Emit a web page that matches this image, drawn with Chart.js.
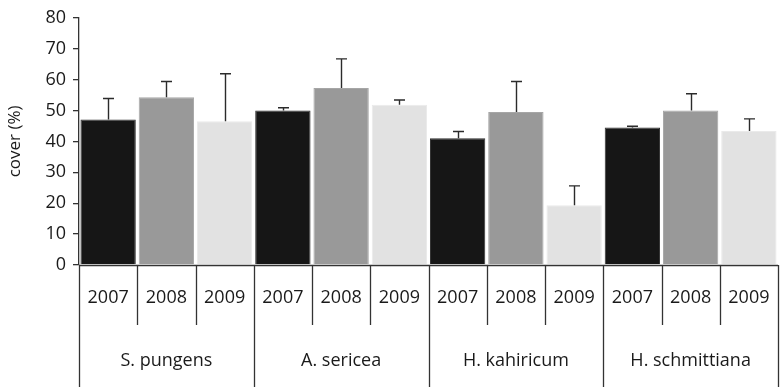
<!DOCTYPE html>
<html>
<head>
<meta charset="utf-8">
<script src="https://cdn.jsdelivr.net/npm/chart.js@4"></script>
<style>
  html, body { margin: 0; padding: 0; background: #ffffff; }
  #wrap { width: 780px; height: 387px; position: relative; }
</style>
</head>
<body>
<div id="wrap"><canvas id="c" width="780" height="387"></canvas></div>
<script>
// Species groups and survey years (two-level category axis)
const species = ['S. pungens', 'A. sericea', 'H. kahiricum', 'H. schmittiana'];
const years = ['2007', '2008', '2009'];

// Mean plant cover (%) per species, one array per year
const cover2007 = [47.1, 50.0, 41.0, 44.5];
const cover2008 = [54.3, 57.3, 49.5, 50.0];
const cover2009 = [46.5, 51.9, 19.3, 43.4];

// Upper error (standard error, % cover) per species, one array per year
const err2007 = [6.8, 0.9, 2.2, 0.4];
const err2008 = [5.1, 9.4, 9.9, 5.4];
const err2009 = [15.4, 1.5, 6.3, 3.9];

// Y axis range and step
const yMin = 0, yMax = 80, yStep = 10;

const yearFill = { '2007': '#161616', '2008': '#999999', '2009': '#e2e2e2' };
const yearEdge = { '2007': '#2e2e2e', '2008': '#a6a6a6', '2009': '#eaeaea' };

// Flatten into one bar per species/year pair
const coverByYear = [cover2007, cover2008, cover2009];
const errByYear = [err2007, err2008, err2009];
const labels = [], values = [], errors = [], fills = [], edges = [];
species.forEach((sp, si) => {
  years.forEach((yr, yi) => {
    labels.push(yr);
    values.push(coverByYear[yi][si]);
    errors.push(errByYear[yi][si]);
    fills.push(yearFill[yr]);
    edges.push(yearEdge[yr]);
  });
});

const FONT = '"Open Sans", "DejaVu Sans", sans-serif';
const TEXT = '#1a1a1a';
const AXIS = '#333333';

// Upward-only error bars with a short cap
const errorBars = {
  id: 'errorBars',
  afterDatasetsDraw(chart) {
    const ctx = chart.ctx;
    const y = chart.scales.y;
    const meta = chart.getDatasetMeta(0);
    ctx.save();
    ctx.strokeStyle = '#2b2b2b';
    ctx.lineWidth = 1.4;
    meta.data.forEach((bar, i) => {
      const x = Math.round(bar.x) + 0.5;
      const top = y.getPixelForValue(values[i] + errors[i]);
      const base = y.getPixelForValue(values[i]);
      ctx.beginPath();
      ctx.moveTo(x, base);
      ctx.lineTo(x, top);
      ctx.moveTo(x - 5.5, top);
      ctx.lineTo(x + 5.5, top);
      ctx.stroke();
    });
    ctx.restore();
  }
};

// Category axis drawn as a two-row table: years, then species
const groupAxis = {
  id: 'groupAxis',
  afterDraw(chart) {
    const ctx = chart.ctx;
    const xs = chart.scales.x;
    const area = chart.chartArea;
    const n = labels.length;
    const cw = (xs.right - xs.left) / n;
    const base = area.bottom;
    const yearRowBottom = base + 60;
    const bottom = chart.height;
    ctx.save();
    ctx.strokeStyle = AXIS;
    ctx.lineWidth = 1.3;
    // baseline
    ctx.beginPath();
    ctx.moveTo(area.left, base + 0.5);
    ctx.lineTo(xs.right, base + 0.5);
    ctx.stroke();
    // separators
    for (let i = 0; i <= n; i++) {
      const x = Math.round(xs.getPixelForValue(Math.min(i, n - 1)) + (i === n ? cw / 2 : -cw / 2)) + 0.5;
      const end = (i % years.length === 0) ? bottom : yearRowBottom;
      ctx.beginPath();
      ctx.moveTo(x, base);
      ctx.lineTo(x, end);
      ctx.stroke();
    }
    ctx.fillStyle = TEXT;
    ctx.font = '18px ' + FONT;
    ctx.textAlign = 'center';
    ctx.textBaseline = 'middle';
    labels.forEach((lab, i) => {
      ctx.fillText(lab, xs.getPixelForValue(i), base + 33);
    });
    species.forEach((sp, si) => {
      const first = xs.getPixelForValue(si * years.length);
      const last = xs.getPixelForValue(si * years.length + years.length - 1);
      ctx.fillText(sp, (first + last) / 2, base + 96);
    });
    ctx.restore();
  }
};

new Chart(document.getElementById('c'), {
  type: 'bar',
  data: {
    labels: labels,
    datasets: [{
      data: values,
      backgroundColor: fills,
      borderColor: edges,
      borderWidth: 1,
      barPercentage: 0.95,
      categoryPercentage: 1.0
    }]
  },
  options: {
    responsive: false,
    animation: false,
    devicePixelRatio: 1,
    layout: { padding: { left: 0, top: 16, right: 2, bottom: 122 } },
    plugins: { legend: { display: false }, tooltip: { enabled: false } },
    scales: {
      x: { display: false },
      y: {
        min: yMin,
        max: yMax,
        afterFit(scale) { scale.width = 79; },
        ticks: {
          stepSize: yStep,
          color: TEXT,
          padding: 7,
          font: { family: FONT, size: 18 }
        },
        grid: { drawOnChartArea: false, drawTicks: true, tickLength: 6, color: AXIS, lineWidth: 1.3 },
        border: { display: true, color: AXIS, width: 1.3 },
        title: {
          display: true,
          text: 'cover (%)',
          color: TEXT,
          font: { family: FONT, size: 17 },
          padding: { top: 5, bottom: 0 }
        }
      }
    }
  },
  plugins: [errorBars, groupAxis]
});
</script>
</body>
</html>
